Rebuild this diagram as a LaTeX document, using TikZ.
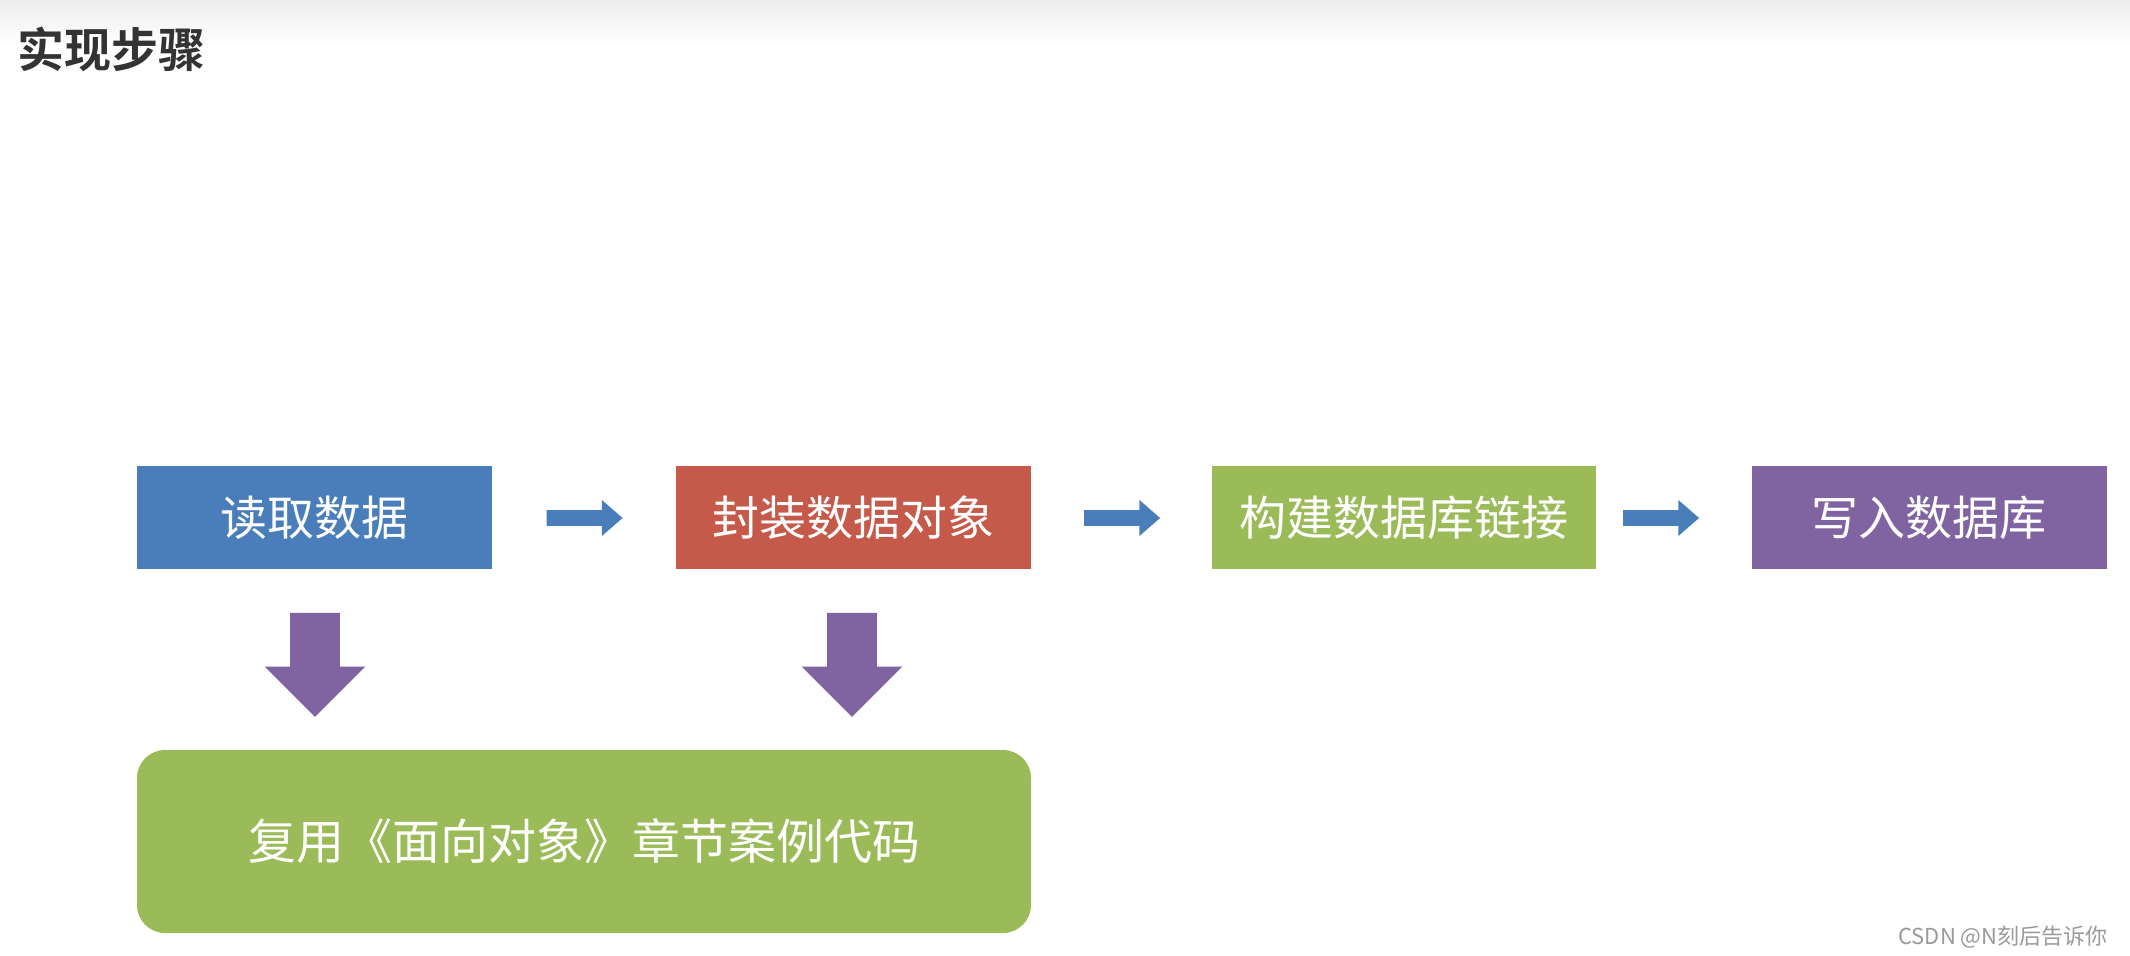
\documentclass[tikz,border=0pt]{standalone}
\usepackage{fontspec}
\usetikzlibrary{shapes.arrows}
\newfontfamily\cjk{Noto Sans CJK SC}[BoldFont={Noto Sans CJK SC Bold}]
\definecolor{cblue}{HTML}{4A7EBB}
\definecolor{cred}{HTML}{C55A4B}
\definecolor{cgreen}{HTML}{9BBB59}
\definecolor{cpurple}{HTML}{8064A2}
\definecolor{ctitle}{HTML}{333333}
\definecolor{cmark}{HTML}{9A9A9A}
\tikzset{
  stepbox/.style={rectangle, inner sep=0pt, minimum width=177.5pt, minimum height=51.5pt,
    text=white, font=\cjk\fontsize{23.5}{28}\selectfont},
  reusebox/.style={rectangle, rounded corners=14pt, inner sep=0pt, fill=cgreen,
    minimum width=447pt, minimum height=91.5pt, text=white, font=\cjk\fontsize{24}{28}\selectfont},
  rarrow/.style={single arrow, fill=cblue, draw=none, inner sep=3.75pt, minimum height=38pt,
    minimum width=18pt, single arrow head extend=5pt, single arrow tip angle=82},
  darrow/.style={single arrow, fill=cpurple, draw=none, inner sep=12.25pt, minimum height=52pt,
    minimum width=50pt, single arrow head extend=12.75pt, single arrow tip angle=90},
}
\begin{document}
\begin{tikzpicture}[x=0.5pt,y=-0.5pt]
\useasboundingbox (0,0) rectangle (2130,956);
\fill[white] (0,0) rectangle (2130,956);
\shade[top color=black!7, bottom color=white] (0,0) rectangle (2130,45);
\node[font=\cjk\bfseries\fontsize{23.5}{28}\selectfont, text=ctitle, inner sep=0pt] (title) at (112,49) {实现步骤};
\node[stepbox, fill=cblue] (b1) at (314.5,517.5) {读取数据};
\node[stepbox, fill=cred] (b2) at (853,517.5) {封装数据对象};
\node[stepbox, fill=cgreen, minimum width=192pt] (b3) at (1404,517.5) {构建数据库链接};
\node[stepbox, fill=cpurple] (b4) at (1929,517.5) {写入数据库};
\node[rarrow] (a1) at (580,518) {};
\node[rarrow] (a2) at (1117.5,518) {};
\node[rarrow] (a3) at (1656.5,518) {};
\node[reusebox] (r) at (584,841.5) {复用《面向对象》章节案例代码};
\node[darrow, rotate=-90] (d1) at (315,652.5) {};
\node[darrow, rotate=-90] (d2) at (852,652.5) {};
\node[font=\cjk\fontsize{11}{13}\selectfont, text=cmark, inner sep=0pt] (wm) at (2003,937) {CSDN @N刻后告诉你};
\end{tikzpicture}
\end{document}
